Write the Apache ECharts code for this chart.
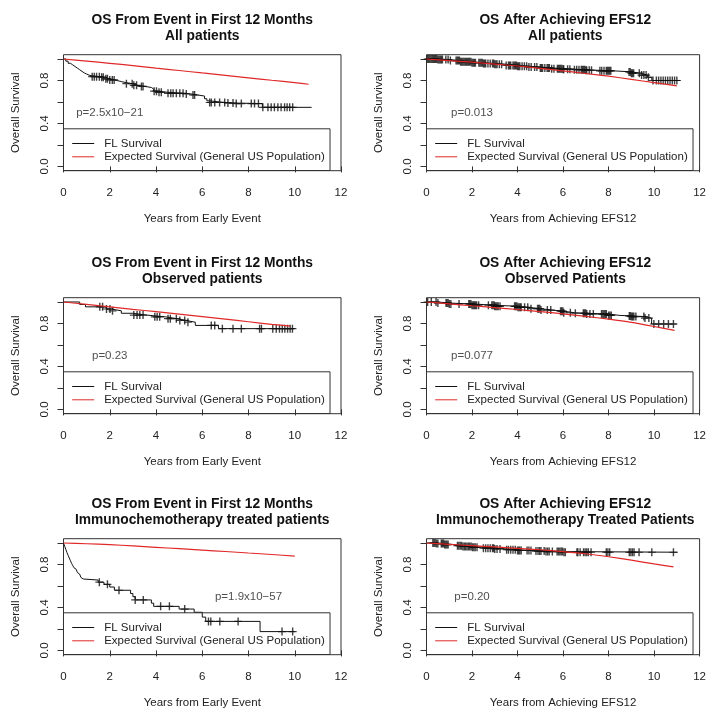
<!DOCTYPE html>
<html><head><meta charset="utf-8">
<script src="https://cdn.jsdelivr.net/npm/echarts@6/dist/echarts.min.js"></script>
<style>html,body{margin:0;padding:0;background:#fff}#c{width:709px;height:710px}</style>
</head><body><div id="c"></div>
<script>
// ---------- DATA ----------
const titles = [
  "OS From Event in First 12 Months\nAll patients",
  "OS After Achieving EFS12\nAll patients",
  "OS From Event in First 12 Months\nObserved patients",
  "OS After Achieving EFS12\nObserved Patients",
  "OS From Event in First 12 Months\nImmunochemotherapy treated patients",
  "OS After Achieving EFS12\nImmunochemotherapy Treated Patients"
];
const xNames = ["Years from Early Event", "Years from Achieving EFS12"];
const yName = "Overall Survival";
const legendNames = ["FL Survival", "Expected Survival (General US Population)"];
const pTexts = ["p=2.5x10\u221221", "p=0.013", "p=0.23", "p=0.077", "p=1.9x10\u221257", "p=0.20"];
const pX = [2, 2, 2, 2, 8, 2];
const pY = [0.5, 0.5, 0.5, 0.5, 0.5, 0.5];
const xTickLabels = [0, 2, 4, 6, 8, 10, 12];
const yTicks = [0, 0.2, 0.4, 0.6, 0.8, 1.0];
const yTickLabels = [0, 0.4, 0.8];

// Panel 1
const km1T = [0,0.1,0.2,0.3,0.4,0.5,0.6,0.7,0.8,0.9,1.0,1.1,1.2,1.6,1.8,2.0,2.2,2.5,2.7,3.0,3.2,3.5,3.8,3.9,4.1,4.5,5.2,5.5,5.8,6.1,6.2,6.3,7.0,7.4,8.6,10.73];
const km1S = [1.0,0.98,0.96,0.945,0.93,0.915,0.9,0.885,0.87,0.86,0.85,0.845,0.835,0.83,0.815,0.805,0.79,0.78,0.77,0.755,0.745,0.735,0.72,0.70,0.69,0.68,0.675,0.665,0.655,0.63,0.61,0.595,0.59,0.585,0.55,0.55];
const cen1 = [1.24,1.33,1.43,1.55,1.65,1.72,1.83,1.9,2.0,2.11,2.19,2.72,2.97,3.04,3.16,3.37,3.44,3.92,4.02,4.13,4.23,4.52,4.64,4.74,4.88,5.03,5.17,5.31,5.6,5.67,6.32,6.39,6.54,6.75,6.97,7.11,7.33,7.47,7.69,8.12,8.26,8.43,8.62,8.84,8.98,9.12,9.27,9.41,9.56,9.67,9.78,9.91];
const exp1T = [0,1,2,3,4,5,6,7,8,9,10,10.6];
const exp1S = [1.0,0.98,0.96,0.938,0.915,0.893,0.87,0.848,0.825,0.802,0.78,0.765];

// Panel 2
const km2T = [0,0.5,1.0,1.5,2.0,2.5,3.0,3.5,4.0,4.5,5.0,5.5,6.0,6.5,7.0,7.5,8.2,9.0,9.4,9.7,9.9,11.15];
const km2S = [1.0,0.995,0.985,0.975,0.965,0.958,0.95,0.94,0.932,0.925,0.917,0.91,0.905,0.9,0.895,0.89,0.88,0.868,0.85,0.83,0.80,0.80];
const cen2 = [0.05,0.1,0.15,0.2,0.25,0.3,0.35,0.4,0.45,0.5,0.55,0.6,0.65,0.7,0.85,0.95,1.05,
  1.3,1.35,1.4,1.45,1.5,1.55,1.6,1.65,1.7,1.75,1.8,1.85,1.9,1.95,2.0,2.05,2.1,2.15,
  2.3,2.35,2.4,2.45,2.5,2.55,2.6,2.7,2.8,2.9,2.95,3.0,3.05,3.1,3.2,3.3,
  3.5,3.6,3.65,3.7,3.8,3.85,3.9,3.95,4.0,4.05,4.1,4.2,4.3,4.4,4.5,4.6,
  4.75,4.85,5.0,5.05,5.1,5.2,5.3,5.35,5.4,5.5,5.6,5.75,5.8,5.85,5.9,5.95,6.0,6.03,6.2,6.3,
  6.5,6.6,6.7,6.8,6.85,6.9,6.95,7.0,7.04,7.15,7.25,7.62,7.7,7.8,7.9,7.95,8.0,8.05,8.1,
  8.9,8.95,9.0,9.05,9.1,9.35,9.45,9.55,9.65,9.75,9.95,10.1,10.2,10.3,10.4,10.5,10.6,10.7,10.8,10.9,11.0];
const exp2T = [0,1,2,3,4,5,6,7,8,9,10,11];
const exp2S = [1.0,0.985,0.97,0.953,0.935,0.913,0.89,0.865,0.84,0.81,0.78,0.75];

// Panel 3
const km3T = [0,0.7,0.95,1.85,2.05,2.5,3.0,3.6,4.4,4.9,5.3,5.7,6.7,10.0];
const km3S = [1.0,0.977,0.955,0.935,0.918,0.895,0.878,0.862,0.845,0.828,0.812,0.782,0.752,0.752];
const cen3 = [1.57,1.69,1.86,2.01,2.12,3.04,3.18,3.3,3.44,3.95,4.05,4.16,4.52,4.62,4.88,5.03,5.24,5.38,6.39,6.54,6.87,7.33,7.69,8.48,8.56,9.05,9.2,9.34,9.46,9.57,9.69,9.8,9.9];
const exp3T = [0,1,2,3,4,5,6,7,8,9,9.8];
const exp3S = [1.0,0.978,0.955,0.932,0.91,0.887,0.864,0.84,0.816,0.792,0.775];

// Panel 4
const km4T = [0,0.5,1.0,2.0,3.0,4.0,4.5,5.0,5.5,6.0,6.5,7.0,8.0,8.5,9.0,9.6,9.89,11.0];
const km4S = [1.0,0.99,0.982,0.97,0.96,0.95,0.938,0.925,0.915,0.9,0.895,0.888,0.875,0.87,0.864,0.85,0.795,0.795];
const cen4 = [0.05,0.21,0.42,0.5,0.86,0.9,0.95,1.0,1.07,1.43,1.86,1.9,1.95,2.0,2.05,2.1,2.15,2.2,2.29,2.72,2.87,2.92,2.97,3.0,3.05,3.1,3.15,3.23,3.87,3.92,3.97,4.02,4.07,4.12,4.16,4.31,4.45,4.59,4.88,4.93,4.98,5.03,5.31,5.46,5.89,5.94,5.99,6.03,6.32,6.54,6.89,6.94,6.99,7.04,7.18,7.33,7.69,7.75,7.8,7.85,7.9,8.0,8.06,8.12,8.91,8.96,9.01,9.06,9.11,9.2,9.55,9.6,9.77,9.99,10.2,10.42,10.63,10.85];
const exp4T = [0,1,2,3,4,5,6,7,8,9,10,10.9];
const exp4S = [1.0,0.983,0.965,0.948,0.93,0.91,0.89,0.866,0.84,0.81,0.772,0.735];

// Panel 5
const km5T = [0,0.05,0.1,0.15,0.2,0.25,0.3,0.35,0.4,0.45,0.5,0.55,0.6,0.65,0.7,0.75,0.8,0.85,1.5,1.75,2.0,2.2,2.9,3.0,3.1,3.8,3.9,5.0,5.65,6.0,6.15,8.5,10.0];
const km5S = [1.0,0.97,0.94,0.91,0.885,0.86,0.835,0.81,0.79,0.77,0.755,0.74,0.725,0.71,0.695,0.68,0.665,0.655,0.635,0.615,0.59,0.56,0.53,0.5,0.47,0.44,0.41,0.385,0.355,0.31,0.27,0.175,0.175];
const cen5 = [1.55,1.9,2.4,3.1,3.45,4.2,4.58,5.24,6.27,6.37,6.76,7.55,9.45,9.91];
const exp5T = [0,1,2,3,4,5,6,7,8,9,10];
const exp5S = [1.0,0.993,0.985,0.973,0.96,0.947,0.934,0.921,0.907,0.893,0.878];

// Panel 6
const km6T = [0,0.4,0.8,1.2,1.6,2.0,2.5,3.0,3.5,4.0,4.6,5.2,6.0,11.03];
const km6S = [1.0,0.995,0.985,0.975,0.968,0.96,0.952,0.945,0.938,0.93,0.925,0.92,0.914,0.914];
const cen6 = [0.28,0.33,0.38,0.44,0.5,0.65,0.7,0.75,0.8,0.85,0.9,0.95,1.36,1.42,1.48,1.54,1.6,1.66,1.72,1.78,1.84,1.9,1.96,2.02,2.08,2.14,2.22,2.5,2.6,2.7,2.8,2.9,2.95,3.0,3.1,3.23,3.52,3.6,3.7,3.8,3.9,4.0,4.05,4.1,4.16,4.42,4.5,4.59,4.81,4.9,4.97,5.03,5.17,5.25,5.32,5.39,5.53,5.74,5.8,5.86,5.92,5.98,6.04,6.1,6.61,6.65,6.75,6.9,6.97,7.04,7.11,7.23,7.9,7.97,8.05,8.91,8.98,9.05,9.12,9.34,9.9,10.85];
const exp6T = [0,1,2,3,4,5,6,7,8,9,10,10.85];
const exp6S = [1.0,0.988,0.975,0.963,0.95,0.937,0.92,0.9,0.872,0.84,0.805,0.778];

const legendTopValue = 0.35;

// ---------- BUILD ----------
const kmT = [km1T, km2T, km3T, km4T, km5T, km6T];
const kmS = [km1S, km2S, km3S, km4S, km5S, km6S];
const cens = [cen1, cen2, cen3, cen4, cen5, cen6];
const expT = [exp1T, exp2T, exp3T, exp4T, exp5T, exp6T];
const expS = [exp1S, exp2S, exp3S, exp4S, exp5S, exp6S];

const F = "'Liberation Sans', Arial, sans-serif";
const TXT = '#222';
const colLeft = [63.5, 426.5];
const rowTop = [54.7, 297.7, 538.7];
const GW = 277.5, GH = 116;
const YMIN = -0.04, YMAX = 1.04;
const plusSym = 'path://M3.3,0h1.4v8h-1.4z M0,3.4h8v1.2h-8z';

function kmAt(T, S, t) {
  let v = S[0];
  for (let i = 0; i < T.length; i++) { if (T[i] <= t) v = S[i]; else break; }
  return v;
}

const option = {
  backgroundColor: '#fff', animation: false,
  title: [], grid: [], xAxis: [], yAxis: [], legend: [], series: []
};

for (let i = 0; i < 6; i++) {
  const col = i % 2, row = Math.floor(i / 2);
  const L = colLeft[col], T = rowTop[row];
  option.title.push({
    text: titles[i], left: L + GW / 2, top: T - 42.8, textAlign: 'center', padding: 0,
    textStyle: { fontFamily: F, fontSize: 13.8, fontWeight: 'bold', color: '#111', lineHeight: 16.4 }
  });
  option.grid.push({ left: L, top: T, width: GW, height: GH, show: true, borderColor: '#333', borderWidth: 1, backgroundColor: 'transparent' });
  option.xAxis.push({
    gridIndex: i, type: 'value', min: 0, max: 12, interval: 2,
    axisLine: { show: false }, splitLine: { show: false },
    axisTick: { show: true, length: 6, lineStyle: { color: '#333' }, customValues: xTickLabels },
    axisLabel: { customValues: xTickLabels, margin: 16, fontFamily: F, fontSize: 11.5, color: TXT },
    name: xNames[col], nameLocation: 'middle', nameGap: 42,
    nameTextStyle: { fontFamily: F, fontSize: 11.5, color: TXT }
  });
  option.yAxis.push({
    gridIndex: i, type: 'value', min: YMIN, max: YMAX,
    axisLine: { show: false }, splitLine: { show: false },
    axisTick: { show: true, length: 6, lineStyle: { color: '#333' }, customValues: yTicks },
    axisLabel: { customValues: yTickLabels, rotate: 90, margin: 13, formatter: v => Number(v).toFixed(1), fontFamily: F, fontSize: 11.5, color: TXT },
    name: yName, nameLocation: 'middle', nameGap: 42,
    nameTextStyle: { fontFamily: F, fontSize: 11.5, color: TXT }
  });
  option.legend.push({
    orient: 'vertical', left: L, top: T + (YMAX - legendTopValue) / (YMAX - YMIN) * GH,
    data: legendNames, selectedMode: false,
    itemWidth: 22, itemHeight: 13, itemGap: 0.3,
    itemStyle: { opacity: 0 }, lineStyle: { width: 1 },
    padding: [8.2, 5.3, 7.2, 8.2], borderColor: '#333', borderWidth: 1,
    textStyle: { fontFamily: F, fontSize: 11.5, color: TXT, lineHeight: 13, padding: [0, 0, 0, 5] }
  });
  const kmData = kmT[i].map((t, k) => [t, kmS[i][k]]);
  option.series.push({
    name: legendNames[0], type: 'line', xAxisIndex: i, yAxisIndex: i, step: 'end',
    data: kmData, symbol: 'none', lineStyle: { color: '#111', width: 1 }, itemStyle: { color: '#111' }, z: 2
  });
  option.series.push({
    name: 'censored', type: 'scatter', xAxisIndex: i, yAxisIndex: i,
    data: cens[i].map(t => [t, kmAt(kmT[i], kmS[i], t)]),
    symbol: plusSym, symbolSize: 8, itemStyle: { color: '#111' }, silent: true, z: 3
  });
  option.series.push({
    name: legendNames[1], type: 'line', xAxisIndex: i, yAxisIndex: i,
    data: expT[i].map((t, k) => [t, expS[i][k]]), symbol: 'none', smooth: 0.2,
    lineStyle: { color: '#e02828', width: 1.2 }, itemStyle: { color: '#e02828' }, z: 4
  });
  option.series.push({
    name: 'pvalue', type: 'scatter', xAxisIndex: i, yAxisIndex: i,
    data: [[pX[i], pY[i]]], symbolSize: 1, itemStyle: { color: 'rgba(0,0,0,0)' }, silent: true,
    label: { show: true, position: 'inside', formatter: () => pTexts[i], fontFamily: F, fontSize: 11.5, color: TXT }, z: 5
  });
}

const chart = echarts.init(document.getElementById('c'), null, { renderer: 'canvas' });
chart.setOption(option);
</script>
</body></html>
